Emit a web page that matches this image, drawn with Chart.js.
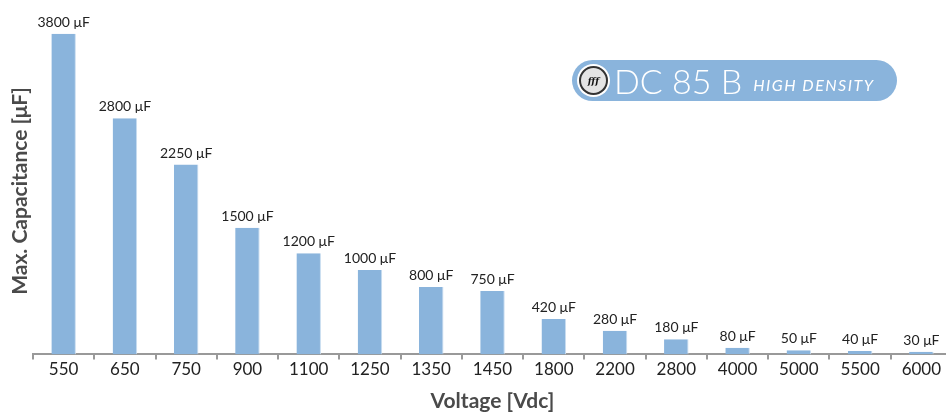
<!DOCTYPE html>
<html><head><meta charset="utf-8">
<script src="https://cdn.jsdelivr.net/npm/chart.js@4/dist/chart.umd.min.js"></script>
<style>
html,body{margin:0;padding:0;background:#fff;overflow:hidden;}
#wrap{position:relative;width:946px;height:414px;overflow:hidden;}
#c{position:absolute;left:0;top:0;}
#badge{position:absolute;left:572px;top:60px;width:325px;height:41px;border-radius:21px;background:#8ab4dc;color:#fff;font-family:Lato,"Open Sans",sans-serif;display:flex;align-items:center;box-sizing:border-box;padding-left:6px;}
#logo{width:29px;height:29px;border-radius:50%;background:#e4e4e4;border:2px solid #333;box-shadow:0 0 0 2px #fff;box-sizing:border-box;display:flex;align-items:center;justify-content:center;font:italic bold 9px "DejaVu Serif",serif;color:#111;margin-right:6px;margin-left:1px;}
#dc{font-size:34px;font-weight:300;margin-right:11px;line-height:1;}
#hd{font-size:16px;font-style:italic;letter-spacing:1.5px;margin-top:8px;}
</style></head>
<body><div id="wrap"><canvas id="c" width="952" height="414"></canvas>
<div id="badge"><div id="logo">fff</div><span id="dc">DC 85 B</span><span id="hd">HIGH DENSITY</span></div></div>
<script>
const voltages = ["550","650","750","900","1100","1250","1350","1450","1800","2200","2800","4000","5000","5500","6000"];
const capacitance = [3800,2800,2250,1500,1200,1000,800,750,420,280,180,80,50,40,30];
const unitSuffix = " μF";
const yTitle = "Max. Capacitance [μF]";
const FONT = 'Lato, "Open Sans", sans-serif';

const labelPlugin = {
  id:'barLabels',
  afterDatasetsDraw(chart){
    const ctx = chart.ctx;
    const meta = chart.getDatasetMeta(0);
    ctx.save();
    ctx.font = '14px ' + FONT;
    ctx.fillStyle = '#222';
    ctx.textAlign = 'center';
    ctx.textBaseline = 'alphabetic';
    meta.data.forEach((bar,i)=>{
      ctx.fillText(capacitance[i] + unitSuffix, bar.x, bar.y - 7);
    });
    // y axis title
    ctx.translate(20, 191);
    ctx.rotate(-Math.PI/2);
    ctx.font = 'bold 21px ' + FONT;
    ctx.fillStyle = '#4a4a4a';
    ctx.textBaseline = 'middle';
    ctx.fillText(yTitle, 0, 0);
    ctx.restore();
  }
};

new Chart(document.getElementById('c'),{
  type:'bar',
  data:{labels:voltages,datasets:[{data:capacitance,backgroundColor:'#8ab4dc',borderColor:'#c9ddf0',borderWidth:{right:1},categoryPercentage:1,barPercentage:0.4}]},
  options:{
    responsive:false,animation:false,
    layout:{padding:{left:33,right:0,top:0,bottom:0}},
    plugins:{legend:{display:false},tooltip:{enabled:false}},
    scales:{
      x:{
        grid:{display:true,drawOnChartArea:false,drawTicks:true,tickLength:5,color:'#999',lineWidth:2,offset:true},
        border:{display:true,color:'#999',width:2},
        ticks:{color:'#222',font:{family:FONT,size:17},padding:0,maxRotation:0,autoSkip:false},
        title:{display:true,text:'Voltage [Vdc]',color:'#4a4a4a',font:{family:FONT,size:21,weight:'bold'},padding:{top:9,bottom:0}}
      },
      y:{
        display:false,
        min:0,max:4200
      }
    }
  },
  plugins:[labelPlugin]
});
</script></body></html>
